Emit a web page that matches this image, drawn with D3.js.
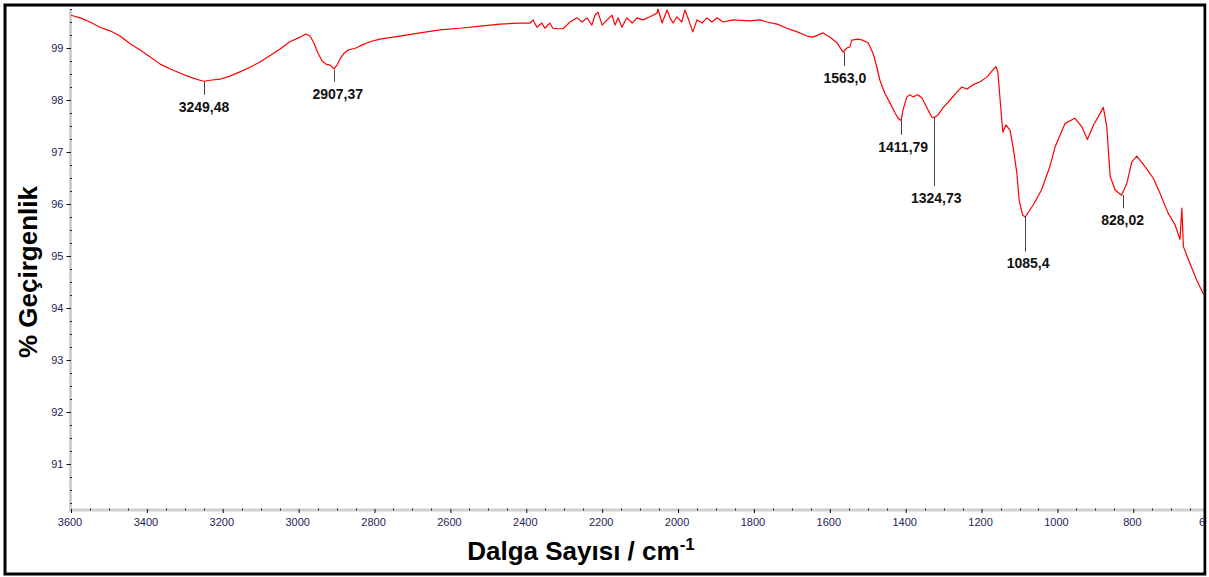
<!DOCTYPE html>
<html><head><meta charset="utf-8">
<script src="https://cdn.jsdelivr.net/npm/d3@7"></script>
<style>body{margin:0;background:#fff} svg{display:block}</style>
</head><body><svg id="c" width="1209" height="577"></svg>
<script>
const wavenumbers = [
3600,3576,3550,3524,3497,3471,3444,3418,3392,3365,
3339,3313,3286,3260,3249,3234,3207,3181,3155,3128,
3102,3076,3049,3023,2996,2981,2970,2960,2949,2938,
2928,2917,2907,2899,2891,2880,2870,2859,2849,2838,
2812,2786,2733,2680,2627,2575,2522,2469,2417,2390,
2382,2372,2359,2351,2338,2330,2316,2303,2293,2285,
2266,2253,2240,2227,2219,2211,2200,2187,2174,2166,
2158,2148,2135,2121,2108,2092,2074,2055,2053,2042,
2029,2021,2013,2003,1990,1982,1974,1961,1950,1937,
1924,1911,1897,1881,1855,1810,1784,1766,1739,1713,
1686,1660,1644,1618,1600,1581,1565,1555,1547,1542,
1526,1513,1499,1486,1476,1468,1455,1441,1428,1420,
1412,1407,1397,1389,1381,1368,1357,1344,1331,1325,
1315,1302,1283,1265,1252,1238,1223,1204,1186,1170,
1162,1157,1151,1144,1136,1125,1117,1107,1101,1092,
1085,1064,1042,1020,1006,980,954,936,921,905,
892,879,870,861,848,831,817,804,791,769,
747,730,708,690,677,672,668,651,633,616,
600];
const transmittance = [
99.63,99.58,99.50,99.40,99.33,99.23,99.08,98.96,98.83,98.69,
98.60,98.52,98.44,98.38,98.36,98.38,98.40,98.46,98.54,98.63,
98.73,98.85,98.98,99.12,99.21,99.27,99.23,99.10,98.90,98.75,
98.69,98.67,98.60,98.67,98.79,98.90,98.96,98.98,99.00,99.04,
99.12,99.17,99.23,99.29,99.35,99.38,99.42,99.46,99.48,99.48,
99.54,99.40,99.48,99.38,99.48,99.38,99.37,99.37,99.44,99.50,
99.58,99.50,99.58,99.44,99.63,99.69,99.44,99.54,99.63,99.44,
99.58,99.40,99.58,99.48,99.58,99.54,99.60,99.67,99.75,99.48,
99.73,99.58,99.48,99.60,99.50,99.73,99.58,99.31,99.54,99.48,
99.58,99.50,99.58,99.50,99.54,99.52,99.54,99.50,99.46,99.38,
99.31,99.23,99.21,99.29,99.21,99.10,98.92,99.00,99.02,99.15,
99.17,99.15,99.10,98.90,98.63,98.38,98.13,97.94,97.75,97.65,
97.60,97.81,98.06,98.10,98.06,98.10,98.04,97.85,97.67,97.66,
97.71,97.85,98.00,98.15,98.25,98.21,98.29,98.35,98.44,98.58,
98.64,98.54,98.00,97.38,97.52,97.42,97.10,96.60,96.08,95.79,
95.75,95.98,96.27,96.72,97.10,97.55,97.65,97.49,97.24,97.52,
97.68,97.86,97.49,96.53,96.27,96.17,96.40,96.81,96.92,96.72,
96.49,96.21,95.82,95.60,95.32,95.92,95.18,94.86,94.54,94.28,
94.15];

const xTickValues = [3600,3400,3200,3000,2800,2600,2400,2200,2000,1800,1600,1400,1200,1000,800,600];
const xMinorTicks = [3550,3500,3450,3350,3300,3250,3150,3100,3050,2950,2900,2850,2750,2700,2650,2550,2500,2450,2350,2300,2250,2150,2100,2050,1950,1900,1850,1750,1700,1650,1550,1500,1450,1350,1300,1250,1150,1100,1050,950,900,850,750,700,650];
const yTickValues = [91,92,93,94,95,96,97,98,99];
const yMinorTicks = [90.25,90.5,90.75,91.25,91.5,91.75,92.25,92.5,92.75,93.25,93.5,93.75,94.25,94.5,94.75,95.25,95.5,95.75,96.25,96.5,96.75,97.25,97.5,97.75,98.25,98.5,98.75,99.25,99.5,99.75];

const peakWavenumbers = [3249.48, 2907.37, 1563.0, 1411.79, 1324.73, 1085.4, 828.02];
const peakTransmittance = [98.35, 98.58, 98.92, 97.60, 97.67, 95.76, 96.17];
const peakLabels = ["3249,48","2907,37","1563,0","1411,79","1324,73","1085,4","828,02"];

// layout for annotations (pixels)
const leaderLength = [13,12,14,14,69,35,13];
const labelShift = [0,4,1,2,2,3,0];

const FONT = "'Liberation Sans', Arial, sans-serif";
const svg = d3.select('#c');
svg.append('rect').attr('width',1209).attr('height',577).attr('fill','#fff');

const x = d3.scaleLinear().domain([3600,600]).range([71,1209.2]);
const y = d3.scaleLinear().domain([99,98]).range([48,100]);

svg.append('clipPath').attr('id','clip').append('rect')
  .attr('x',0).attr('y',0).attr('width',1203.5).attr('height',577);

const g = svg.append('g').attr('clip-path','url(#clip)');

// axis bands
const axisY = 510;
const axisX = 70.5;
g.append('line').attr('x1',axisX).attr('x2',axisX).attr('y1',9).attr('y2',axisY+1.5)
  .attr('stroke','#cfcfcf').attr('stroke-width',3);
g.append('line').attr('x1',axisX-1.5).attr('x2',1209).attr('y1',axisY).attr('y2',axisY)
  .attr('stroke','#cfcfcf').attr('stroke-width',3);

// y axis
const yAxis = d3.axisLeft(y).tickValues(yTickValues).tickSize(4.5).tickPadding(3).tickFormat(d3.format('d'));
const ya = g.append('g').attr('transform',`translate(${axisX+0.5},0)`).call(yAxis);
ya.select('.domain').remove();
ya.selectAll('.tick line').attr('stroke','#111');
ya.selectAll('.tick text').attr('font-family',FONT).attr('font-size',11).attr('fill','#23235a');
g.selectAll('.ymin').data(yMinorTicks).enter().append('line')
  .attr('x1',axisX-0.5).attr('x2',axisX+1.5)
  .attr('y1',d=>Math.round(y(d))+0.5).attr('y2',d=>Math.round(y(d))+0.5)
  .attr('stroke','#222').attr('stroke-width',1);

// x axis
const xAxis = d3.axisBottom(x).tickValues(xTickValues).tickSize(4).tickPadding(5).tickFormat(d3.format('d'));
const xa = g.append('g').attr('transform',`translate(0,${axisY-1})`).call(xAxis);
xa.select('.domain').remove();
xa.selectAll('.tick line').attr('stroke','#111');
xa.selectAll('.tick text').attr('font-family',FONT).attr('font-size',11).attr('fill','#23235a').attr('dx',-1.5);
g.selectAll('.xmin').data(xMinorTicks).enter().append('line')
  .attr('x1',d=>Math.round(x(d))+0.5).attr('x2',d=>Math.round(x(d))+0.5)
  .attr('y1',axisY-1.5).attr('y2',axisY+0.5)
  .attr('stroke','#222').attr('stroke-width',1);

// spectrum
const pts = wavenumbers.map((w,i)=>[w,transmittance[i]]);
const line = d3.line().x(d=>x(d[0])).y(d=>y(d[1]));
g.append('path').datum(pts).attr('d',line)
  .attr('fill','none').attr('stroke','#ff0000').attr('stroke-width',1.2).attr('stroke-linejoin','round');

// peak annotations
peakWavenumbers.forEach((w,i)=>{
  const px = Math.round(x(w))+0.5;
  const py = y(peakTransmittance[i]);
  g.append('line').attr('x1',px).attr('x2',px).attr('y1',py).attr('y2',py+leaderLength[i])
    .attr('stroke','#444').attr('stroke-width',1);
  g.append('text').attr('x',x(w)+labelShift[i]).attr('y',py+leaderLength[i]+17)
    .attr('text-anchor','middle').attr('font-family',FONT).attr('font-weight','bold')
    .attr('font-size',14).attr('fill','#111').text(peakLabels[i]);
});

// axis titles
svg.append('text').attr('transform','translate(37,272) rotate(-90)')
  .attr('text-anchor','middle').attr('font-family',FONT).attr('font-weight','bold')
  .attr('font-size',26).attr('fill','#000').text('% Geçirgenlik');

const xt = svg.append('text').attr('x',581).attr('y',560)
  .attr('text-anchor','middle').attr('font-family',FONT).attr('font-weight','bold')
  .attr('font-size',26).attr('fill','#000');
xt.append('tspan').text('Dalga Sayısı / cm');
xt.append('tspan').attr('font-size',17).attr('dy',-10).text('-1');

// frame
svg.append('rect').attr('x',5).attr('y',5).attr('width',1200).attr('height',569)
  .attr('fill','none').attr('stroke','#000').attr('stroke-width',3);
svg.append('rect').attr('x',1206.5).attr('y',0).attr('width',3).attr('height',577).attr('fill','#fff');
</script></body></html>
